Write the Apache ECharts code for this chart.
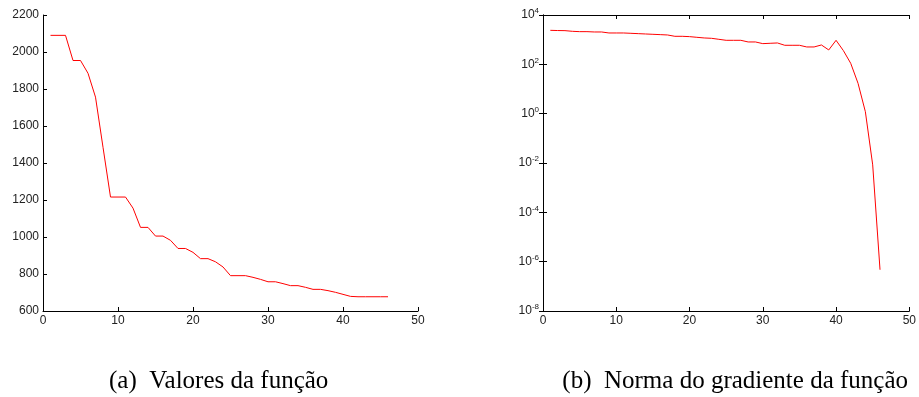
<!DOCTYPE html>
<html><head><meta charset="utf-8">
<script src="https://cdn.jsdelivr.net/npm/echarts@6/dist/echarts.min.js"></script>
<style>html,body{margin:0;padding:0;background:#fff}#c{width:919px;height:397px}</style>
</head><body><div id="c"></div>
<script>
const iterations = Array.from({length: 46}, (_, i) => i + 1);
const funcValues = [2090,2090,2090,1954,1954,1885,1756,1485,1216,1216,1216,1156,1052,1052,1005,1005,982,938,938,917,883,883,866,838,791,791,791,782,771,758,758,748,737,737,728,717,717,710,701,690,679,677,677,677,677,677];
const gradNorm = [2393,2344,2320,2183,2115,2115,2050,2050,1867,1867,1867,1810,1755,1702,1650,1600,1550,1368,1368,1327,1247,1172,1136,1035,942,942,942,807,807,691,713,735,592,592,592,506,506,610,383,942,360,110,17,1.2,0.0084,4.7e-7];
const captionA = '(a)  Valores da função';
const captionB = '(b)  Norma do gradiente da função';

const chart = echarts.init(document.getElementById('c'), null, {renderer: 'canvas'});
const font = 'Liberation Sans, Arial, sans-serif';
const lbl = {color: '#222', fontSize: 12, fontFamily: font};
const axLine = {show: true, lineStyle: {color: '#000', width: 1}};
const tick = {show: true, inside: true, length: 4, lineStyle: {color: '#000'}};
const capFont = '25px "Liberation Serif", "Times New Roman", serif';

chart.setOption({
  animation: false,
  grid: [
    {left: 43, top: 15, width: 375, height: 296},
    {left: 543, top: 15, width: 375, height: 296}
  ],
  xAxis: [
    {gridIndex: 0, type: 'value', min: 0, max: 50, interval: 10, axisLine: axLine, axisTick: tick, splitLine: {show: false}, axisLabel: Object.assign({margin: 4, formatter: v => String(v)}, lbl)},
    {gridIndex: 1, type: 'value', min: 0, max: 50, interval: 10, axisLine: axLine, axisTick: tick, splitLine: {show: false}, axisLabel: Object.assign({margin: 4, formatter: v => String(v)}, lbl)},
    {gridIndex: 1, type: 'value', position: 'top', min: 0, max: 50, interval: 10, axisLine: axLine, axisTick: tick, splitLine: {show: false}, axisLabel: {show: false}}
  ],
  yAxis: [
    {gridIndex: 0, type: 'value', min: 600, max: 2200, interval: 200, axisLine: axLine, axisTick: tick, splitLine: {show: false}, axisLabel: Object.assign({margin: 4, formatter: v => String(v)}, lbl)},
    {gridIndex: 1, type: 'log', logBase: 10, min: 1e-8, max: 1e4, interval: 2, axisLine: axLine, axisTick: tick, splitLine: {show: false},
      axisLabel: Object.assign({margin: 4, formatter: v => '{b|10}{s|' + Math.round(Math.log10(v)) + '}',
        rich: {b: {fontSize: 12, fontFamily: font, color: '#222'}, s: {fontSize: 8, fontFamily: font, color: '#222', verticalAlign: 'top', padding: [0, 0, 8, 0]}}}, lbl)},
    {gridIndex: 1, type: 'log', logBase: 10, position: 'right', min: 1e-8, max: 1e4, interval: 2, axisLine: axLine, axisTick: tick, splitLine: {show: false}, axisLabel: {show: false}}
  ],
  series: [
    {type: 'line', xAxisIndex: 0, yAxisIndex: 0, data: iterations.map((x, i) => [x, funcValues[i]]), showSymbol: false, lineStyle: {color: '#ff0000', width: 1}, itemStyle: {color: '#ff0000'}},
    {type: 'line', xAxisIndex: 1, yAxisIndex: 1, data: iterations.map((x, i) => [x, gradNorm[i]]), showSymbol: false, lineStyle: {color: '#ff0000', width: 1}, itemStyle: {color: '#ff0000'}}
  ],
  graphic: [
    {type: 'text', left: 109, top: 369, style: {text: captionA, font: capFont, fill: '#000'}},
    {type: 'text', right: 11, top: 369, style: {text: captionB, font: capFont, fill: '#000'}}
  ]
});
</script></body></html>
